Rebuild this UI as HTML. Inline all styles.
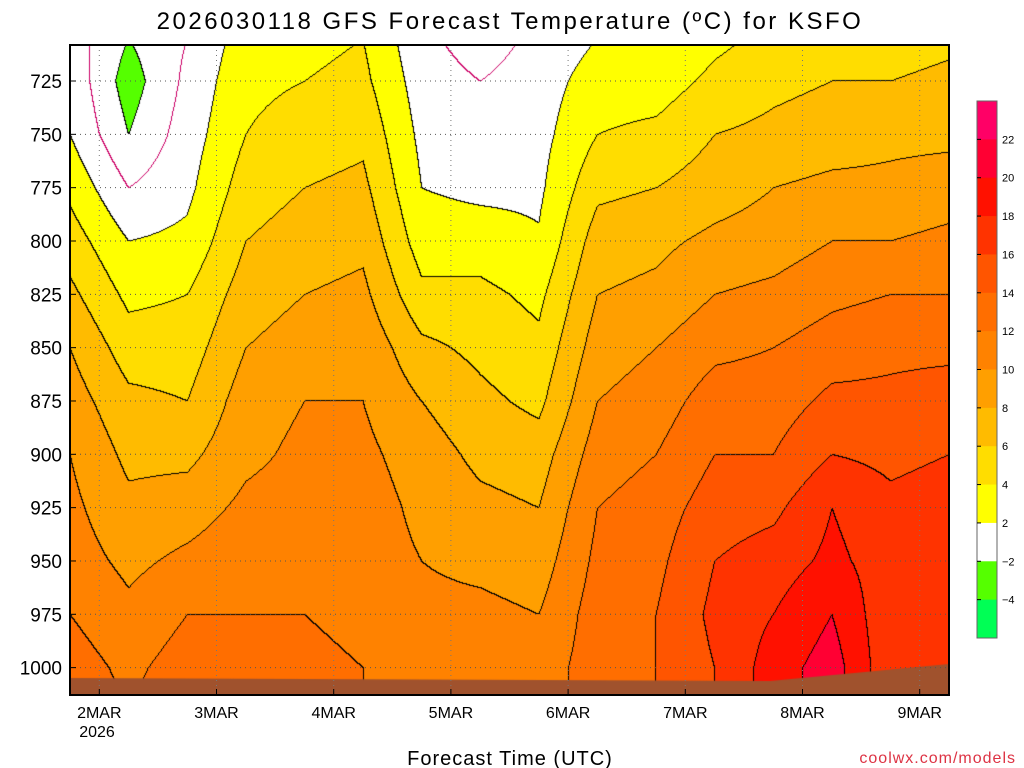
<!DOCTYPE html>
<html><head><meta charset="utf-8"><style>
body{margin:0;background:#fff;width:1024px;height:768px;overflow:hidden;font-family:"Liberation Sans",sans-serif}
#wrap{position:relative;width:1024px;height:768px}
canvas{position:absolute;left:0;top:0}
svg{position:absolute;left:0;top:0}
</style></head><body>
<div id="wrap">
<canvas id="cv" width="1024" height="768"></canvas>
<svg id="sv" width="1024" height="768"></svg>
</div>
<script>
// ---- data ----
const times = [0,12,24,36,48,60,72,84,96,108,120,132,144,156,168,180]; // hours from 1 Mar 18Z
const levels = [705,725,750,775,800,825,850,875,900,925,950,975,1000,1015];
const dayLabels = ["2MAR","3MAR","4MAR","5MAR","6MAR","7MAR","8MAR","9MAR"];
const pressureTicks = [725,750,775,800,825,850,875,900,925,950,975,1000];
const colorLevels = [-4,-2,0,2,4,6,8,10,12,14,16,18,20,22];
const bandColors = ["#00ff55","#55ff00","#ffffff","#ffffff","#ffff00","#ffdd00","#ffbb00","#ff9f00","#ff8200","#ff6e00","#ff5500","#ff3300","#ff1100","#ff0033","#ff0066"];
const barLabels = [22,20,18,16,14,12,10,8,6,4,2,-2,-4];
const t0 = [1,1.5,2,3.5,5,6.5,8,9,10,10.5,11,12,13,13];
const t1 = [-2,-3,-2,0,2,3.5,5,6.5,7.5,8.5,9.5,10.5,11.5,12];
const t2 = [0,0.5,1,1.5,2.5,4,5,6,7.5,9,10.5,12,13,13];
const t3 = [3,3.5,4,5,6,7,8,9,9.5,10.5,11.5,12,13,13];
const t4 = [3.5,4,5,6,7,8,9,10,10.5,11,11.5,12,12.5,13];
const t5 = [4,4.5,5.5,6.5,7.5,8.5,9.5,10,10.5,11,11,11.5,12,12];
const t6 = [0.5,1,1.5,2,3,4.5,6.5,8,9,9.5,10,10.5,11.5,12];
const t7 = [-1,0,1,1.5,3,4.5,5.5,6.5,7.5,8.5,9.5,10.5,11.5,12];
const t8 = [0.5,1,1.3,1.6,2.2,3.5,4.5,5.5,7,8,9,10,11,11];
const t9 = [2,3,4,5.5,7,8,9,10,11,12,12.5,13,13,13];
const t10 = [2,3,4.5,6,7.5,8.5,10,11,12,13,13.5,14,14,14];
const t11 = [3.5,4.5,6,7,8.5,10,11.5,13,14,15,16,16.5,16,16];
const t12 = [4.5,5.5,6.5,8,9,10.5,12,13,14,15.5,17,18,19,19];
const t13 = [5,6,7,8.5,10,11.5,13,14.5,16,18,18.5,20,21,21];
const t14 = [5,6,7.5,8.5,10,12,13.5,14.5,15.5,16.5,17,16.5,16.5,16];
const t15 = [5.5,6.5,7.5,9,10.5,12,13.5,15,16,17,17.5,17,16.5,16];
const temps = [t0,t1,t2,t3,t4,t5,t6,t7,t8,t9,t10,t11,t12,t13,t14,t15];

// ---- axes ----
const PX0=70,PX1=949,PY0=45,PY1=695;
const X=h=>70+h*(879/180);
const Y=p=>81+(p-725)*53.33/25;
const Pof=y=>725+(y-81)*25/53.33;
const Hof=x=>(x-70)*180/879;

function bandOf(v){let i=0;while(i<colorLevels.length&&v>=colorLevels[i])i++;return i;}
function sampleT(h,p){
  let i=0;while(i<times.length-2&&h>times[i+1])i++;
  let j=0;while(j<levels.length-2&&p>levels[j+1])j++;
  let fx=Math.max(0,Math.min(1,(h-times[i])/(times[i+1]-times[i])));
  let fy=Math.max(0,Math.min(1,(p-levels[j])/(levels[j+1]-levels[j])));
  const a=temps[i][j],b=temps[i+1][j],c=temps[i][j+1],d=temps[i+1][j+1];
  return a*(1-fx)*(1-fy)+b*fx*(1-fy)+c*(1-fx)*fy+d*fx*fy;
}
const cv=document.getElementById('cv'),ctx=cv.getContext('2d');
const W=PX1-PX0,H=PY1-PY0;
const img=ctx.createImageData(W,H);
const bands=new Int8Array(W*H);
for(let yy=0;yy<H;yy++){const p=Pof(PY0+yy);for(let xx=0;xx<W;xx++){bands[yy*W+xx]=bandOf(sampleT(Hof(PX0+xx),p));}}
function hex(c){return [parseInt(c.substr(1,2),16),parseInt(c.substr(3,2),16),parseInt(c.substr(5,2),16)];}
const rgb=bandColors.map(hex);
for(let yy=0;yy<H;yy++)for(let xx=0;xx<W;xx++){
  const k=yy*W+xx,b=bands[k];let c=rgb[b];
  const r=xx<W-1?bands[k+1]:b,d=yy<H-1?bands[k+W]:b;
  if(r!==b||d!==b){c=[0,0,0];
    if((b===2&&r===3)||(b===3&&r===2)||(b===2&&d===3)||(b===3&&d===2))c=[204,0,102];}
  const o=k*4;img.data[o]=c[0];img.data[o+1]=c[1];img.data[o+2]=c[2];img.data[o+3]=255;}
ctx.putImageData(img,PX0,PY0);
// ground
ctx.fillStyle="#a0522d";ctx.beginPath();ctx.moveTo(PX0,678);ctx.lineTo(770,681);ctx.lineTo(949,664);ctx.lineTo(949,695);ctx.lineTo(70,695);ctx.closePath();ctx.fill();

// ---- svg overlay ----
const sv=document.getElementById('sv');const NS="http://www.w3.org/2000/svg";
function el(t,a,txt){const e=document.createElementNS(NS,t);for(const k in a)e.setAttribute(k,a[k]);if(txt!==undefined)e.textContent=txt;sv.appendChild(e);return e;}
pressureTicks.forEach(p=>{
  const g=el('line',{x1:PX0,x2:PX1,y1:Y(p),y2:Y(p),stroke:'#555','stroke-dasharray':'1,4','stroke-width':1});
  
  
  const t=el('text',{x:62,y:Y(p)+7,'text-anchor':'end','font-size':19,fill:'#000'},String(p));
  
  
  el('line',{x1:PX0,x2:PX0+6,y1:Y(p),y2:Y(p),stroke:'#000'});
});
dayLabels.forEach((d,i)=>{
  const x=X(6+24*i);
  const g=el('line',{x1:x,x2:x,y1:PY0,y2:PY1,stroke:'#777','stroke-dasharray':'1,4'});
  
  
  el('line',{x1:x,x2:x,y1:PY1,y2:PY1-6,stroke:'#000'});
  const t=el('text',{x:x,y:718,'text-anchor':'middle','font-size':16},d);
  
  
});
const yr=el('text',{x:97,y:737,'text-anchor':'middle','font-size':16},'2026');


const fr=el('rect',{x:PX0,y:PY0,width:W,height:H,fill:'none',stroke:'#000','stroke-width':2});


const ti=el('text',{x:510,y:29,'text-anchor':'middle','font-size':24,'letter-spacing':'2.5'},'2026030118 GFS Forecast Temperature (ºC) for KSFO');


const xt=el('text',{x:510,y:765,'text-anchor':'middle','font-size':20,'letter-spacing':'1'},'Forecast Time (UTC)');


const cr=el('text',{x:1016,y:763,'text-anchor':'end','font-size':16,fill:'#dd3344','letter-spacing':'1'},'coolwx.com/models');


// colorbar
const CB0=101,CB1=638,bh=(CB1-CB0)/14;
const barBands=[14,13,12,11,10,9,8,7,6,5,4,2,1,0];
barBands.forEach((b,i)=>{
  const r=el('rect',{x:977,y:CB0+i*bh,width:20,height:bh+0.5,fill:bandColors[b]});
  
  
});
el('rect',{x:977,y:CB0,width:20,height:CB1-CB0,fill:'none',stroke:'#666'});
barLabels.forEach((v,i)=>{
  const y=CB0+(i+1)*bh;
  el('line',{x1:977,x2:981,y1:y,y2:y,stroke:'#000'});
  const t=el('text',{x:1002,y:y+4,'font-size':11},v<0?'\u2212'+(-v):String(v));
  
  
});
</script>
</body></html>
